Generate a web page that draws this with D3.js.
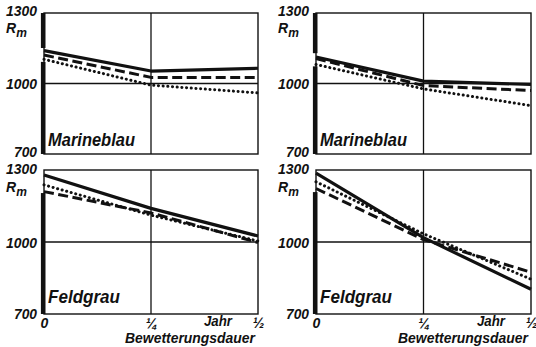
<!DOCTYPE html>
<html>
<head>
<meta charset="utf-8">
<script src="https://cdn.jsdelivr.net/npm/d3@7"></script>
<style>
  html, body { margin: 0; padding: 0; background: #fff; }
  svg { display: block; }
  text { font-family: "Liberation Sans", Arial, sans-serif; font-weight: bold; font-style: italic; fill: #111; }
</style>
</head>
<body>
<svg id="chart" width="536" height="347"></svg>
<script>
// Weathering duration in years (x) and tensile strength R_m (y)
const durations = [0, 0.25, 0.5];
const yTicks = [700, 1000, 1300];
const xTickLabels = ["0", "¼", "½"];
const panelTitles = ["Marineblau", "Marineblau", "Feldgrau", "Feldgrau"];

// One value per duration, panels in reading order (TL, TR, BL, BR)
const solidValues  = [[1140, 1053, 1065], [1113, 1010, 996], [1279, 1140, 1025], [1287, 1018, 803]];
const dashedValues = [[1121, 1026, 1026], [1106, 991, 970],  [1210, 1121, 998],  [1223, 1010, 874]];
const dottedValues = [[1103, 993, 960],   [1081, 977, 906],  [1238, 1112, 1004], [1251, 1034, 845]];

// Ranges of the heavy left axis bar (in R_m units), per panel
const axisBars = [
  [[1300, 1151], [1092, 700]],
  [[1300, 1129], [1073, 700]],
  [[1204, 700]],
  [[1208, 700]]
];

const svg = d3.select("#chart");
const colLeft = [44, 316], colWidth = [214, 215];
const rowTop = [13, 170], rowHeight = [141, 144];

const seriesStyles = [
  { values: solidValues,  width: 3.2, dash: null,      cap: "butt" },
  { values: dashedValues, width: 3.0, dash: "10,4.5",  cap: "butt" },
  { values: dottedValues, width: 3.0, dash: "0.1,4.6", cap: "round" }
];

panelTitles.forEach((title, i) => {
  const col = i % 2, row = Math.floor(i / 2);
  const x0 = colLeft[col], w = colWidth[col];
  const y0 = rowTop[row], h = rowHeight[row];

  const x = d3.scaleLinear().domain([0, 0.5]).range([x0, x0 + w]);
  const y = d3.scaleLinear().domain([700, 1300]).range([y0 + h, y0]);

  const g = svg.append("g");

  // frame
  g.append("rect")
    .attr("x", x0).attr("y", y0).attr("width", w).attr("height", h)
    .attr("fill", "none").attr("stroke", "#111").attr("stroke-width", 1.4);

  // grid: quarter-year and 1000 line
  g.append("line")
    .attr("x1", x(0.25)).attr("x2", x(0.25)).attr("y1", y0).attr("y2", y0 + h)
    .attr("stroke", "#111").attr("stroke-width", 1.3);
  g.append("line")
    .attr("x1", x0).attr("x2", x0 + w).attr("y1", y(1000)).attr("y2", y(1000))
    .attr("stroke", "#111").attr("stroke-width", 1.3);

  // heavy axis segments
  axisBars[i].forEach(([a, b]) => {
    g.append("line")
      .attr("x1", x0 - 0.8).attr("x2", x0 - 0.8)
      .attr("y1", y(a)).attr("y2", y(b))
      .attr("stroke", "#111").attr("stroke-width", 4.6);
  });

  // y tick labels
  const tickDy = d => {
    if (d === 1300) return row === 0 ? "0.15em" : "0.25em";
    if (d === 700) return row === 0 ? "0.15em" : "0.3em";
    return "0.35em";
  };
  const yAxis = d3.axisLeft(y).tickValues(yTicks).tickFormat(d3.format("d"))
    .tickSize(0).tickPadding(7);
  const ya = g.append("g").attr("transform", `translate(${x0},0)`).call(yAxis);
  ya.select(".domain").remove();
  ya.selectAll("text")
    .attr("font-size", 14.5)
    .attr("font-family", null)
    .attr("dy", tickDy)
    .attr("textLength", d => d === 700 ? 23 : 31)
    .attr("lengthAdjust", "spacingAndGlyphs");

  // R_m label
  const rm = g.append("text")
    .attr("x", x0 - 38).attr("y", y0 + (row === 0 ? 20 : 21.5))
    .attr("font-size", 14);
  rm.append("tspan").text("R");
  rm.append("tspan").attr("dy", 4).attr("font-size", 12).text("m");

  // panel title
  g.append("text")
    .attr("x", x0 + 4).attr("y", y0 + h - (row === 0 ? 8 : 11))
    .attr("font-size", 18)
    .attr("textLength", title === "Marineblau" ? 87 : 72)
    .attr("lengthAdjust", "spacingAndGlyphs")
    .text(title);

  // data lines
  const line = d3.line().x((d, k) => x(durations[k])).y(d => y(d));
  seriesStyles.forEach(s => {
    g.append("path")
      .datum(s.values[i])
      .attr("d", line)
      .attr("fill", "none")
      .attr("stroke", "#111")
      .attr("stroke-width", s.width)
      .attr("stroke-linecap", s.cap)
      .attr("stroke-linejoin", "round")
      .attr("stroke-dasharray", s.dash);
  });

  // x axis labels on bottom row
  if (row === 1) {
    const xAxis = d3.axisBottom(x).tickValues(durations)
      .tickFormat((d, k) => xTickLabels[k]).tickSize(0).tickPadding(4);
    const xa = g.append("g").attr("transform", `translate(0,${y0 + h})`).call(xAxis);
    xa.select(".domain").remove();
    xa.selectAll("text").attr("font-size", 14).attr("font-family", null);

    g.append("text")
      .attr("x", x(0.5) - 26).attr("y", y0 + h + 12)
      .attr("text-anchor", "end").attr("font-size", 14)
      .attr("textLength", 28).attr("lengthAdjust", "spacingAndGlyphs")
      .text("Jahr");

    g.append("text")
      .attr("x", x(0.5) - 133).attr("y", y0 + h + 29)
      .attr("font-size", 14)
      .attr("textLength", 130).attr("lengthAdjust", "spacingAndGlyphs")
      .text("Bewetterungsdauer");
  }
});
</script>
</body>
</html>
